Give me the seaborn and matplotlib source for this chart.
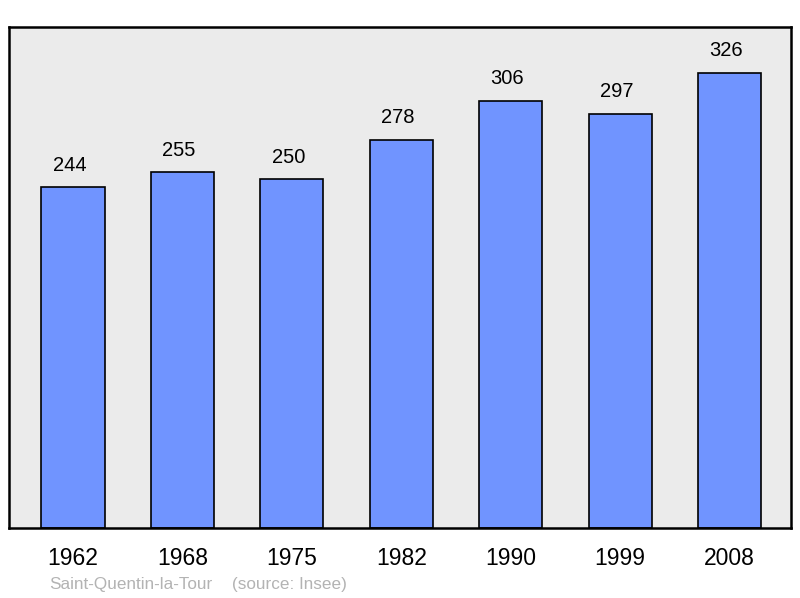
import pandas as pd
import matplotlib
matplotlib.use('Agg')
import matplotlib.pyplot as plt
import seaborn as sns

# Population data
years = ['1962', '1968', '1975', '1982', '1990', '1999', '2008']
population = [244, 255, 250, 278, 306, 297, 326]
town = 'Saint-Quentin-la-Tour'
source = '(source: Insee)'

df = pd.DataFrame({'year': years, 'population': population})

sns.set_style('white')
plt.rcParams['font.family'] = ['Liberation Sans', 'DejaVu Sans']

fig = plt.figure(figsize=(8, 5.98), dpi=100)
ax = fig.add_axes([9 / 800, 1 - 528 / 598, 782 / 800, 501 / 598])
ax.set_facecolor('#ebebeb')

sns.barplot(data=df, x='year', y='population', color='#7094ff', saturation=1,
            width=0.576, edgecolor='black', linewidth=1.2, ax=ax)

for i, v in enumerate(population):
    ax.text(i - 0.03, v + 9, str(v), ha='center', va='bottom', fontsize=14.5, color='black')

ax.set_xlim(-0.585, 6.562)
ax.set_ylim(0, 359)
ax.set_yticks([])
ax.set_xlabel('')
ax.set_ylabel('')
ax.tick_params(axis='x', length=0, labelsize=16.5, pad=14, labelcolor='black')
for s in ax.spines.values():
    s.set_visible(True)
    s.set_color('black')
    s.set_linewidth(1.8)

fig.text(49 / 800, 1 - 584 / 598, town, fontsize=12.3,
         color='#b3b3b3', ha='left', va='center')
fig.text(232 / 800, 1 - 584 / 598, source, fontsize=12.3,
         color='#b3b3b3', ha='left', va='center')

fig.savefig('out.png', dpi=100)
